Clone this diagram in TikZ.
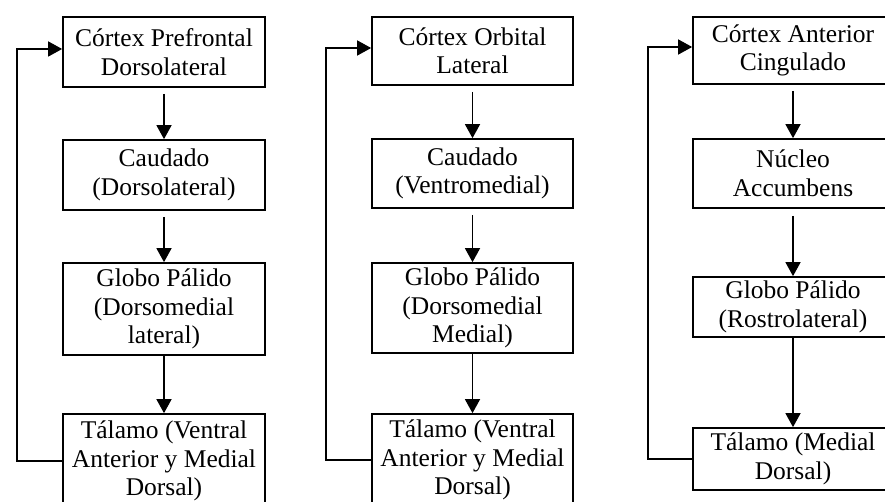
\documentclass[tikz,border=0pt]{standalone}
\usepackage{fontspec}
\setmainfont{Liberation Serif}
\usetikzlibrary{arrows.meta}
\begin{document}
\begin{tikzpicture}[x=1pt,y=-1pt,
  box/.style={draw, line width=1.7pt, rectangle, inner sep=0pt, align=center,
    font=\fontsize{25.5}{28.5}\selectfont},
  flow/.style={line width=1.5pt, -{Triangle[length=14pt,width=15pt]}}]
\useasboundingbox (0,0) rectangle (885,502);
% Column 1
\node[box, minimum width=202pt, minimum height=70pt] (a1) at (164,52) {Córtex Prefrontal\\Dorsolateral};
\node[box, minimum width=202pt, minimum height=70pt] (a2) at (164,175) {Caudado\\(Dorsolateral)};
\node[box, minimum width=202pt, minimum height=92pt] (a3) at (164,309) {Globo Pálido\\(Dorsomedial\\lateral)};
\node[box, minimum width=202pt, minimum height=94pt] (a4) at (164,461) {Tálamo (Ventral\\Anterior y Medial\\Dorsal)};
\draw[flow] ([yshift=-6pt]a1.south) -- (a2.north);
\draw[flow] ([yshift=-6pt]a2.south) -- (a3.north);
\draw[flow] (a3.south) -- (a4.north);
\coordinate (f1b) at (17,461);
\coordinate (f1t) at (17,49);
\draw[flow] (a4.west) -- (f1b) -- (f1t) -- (f1t -| a1.west);
% Column 2
\node[box, minimum width=201pt, minimum height=68pt] (b1) at (472.5,51) {Córtex Orbital\\Lateral};
\node[box, minimum width=201pt, minimum height=69pt] (b2) at (472.5,173.5) {Caudado\\(Ventromedial)};
\node[box, minimum width=201pt, minimum height=90pt] (b3) at (472.5,308) {Globo Pálido\\(Dorsomedial\\Medial)};
\node[box, minimum width=201pt, minimum height=92pt] (b4) at (472.5,460) {Tálamo (Ventral\\Anterior y Medial\\Dorsal)};
\draw[flow] ([yshift=-6pt]b1.south) -- (b2.north);
\draw[flow] ([yshift=-6pt]b2.south) -- (b3.north);
\draw[flow] (b3.south) -- (b4.north);
\coordinate (f2b) at (326,460);
\coordinate (f2t) at (326,48);
\draw[flow] (b4.west) -- (f2b) -- (f2t) -- (f2t -| b1.west);
% Column 3
\node[box, minimum width=200pt, minimum height=67pt] (c1) at (793,50.5) {Córtex Anterior\\Cingulado};
\node[box, minimum width=200pt, minimum height=69pt] (c2) at (793,173.5) {Núcleo\\Accumbens};
\node[box, minimum width=200pt, minimum height=60pt] (c3) at (793,307) {Globo Pálido\\(Rostrolateral)};
\node[box, minimum width=200pt, minimum height=62pt] (c4) at (793,459) {Tálamo (Medial\\Dorsal)};
\draw[flow] ([yshift=-6pt]c1.south) -- (c2.north);
\draw[flow] ([yshift=-7pt]c2.south) -- (c3.north);
\draw[flow] (c3.south) -- (c4.north);
\coordinate (f3b) at (648,459);
\coordinate (f3t) at (648,47);
\draw[flow] (c4.west) -- (f3b) -- (f3t) -- (f3t -| c1.west);
\end{tikzpicture}
\end{document}
